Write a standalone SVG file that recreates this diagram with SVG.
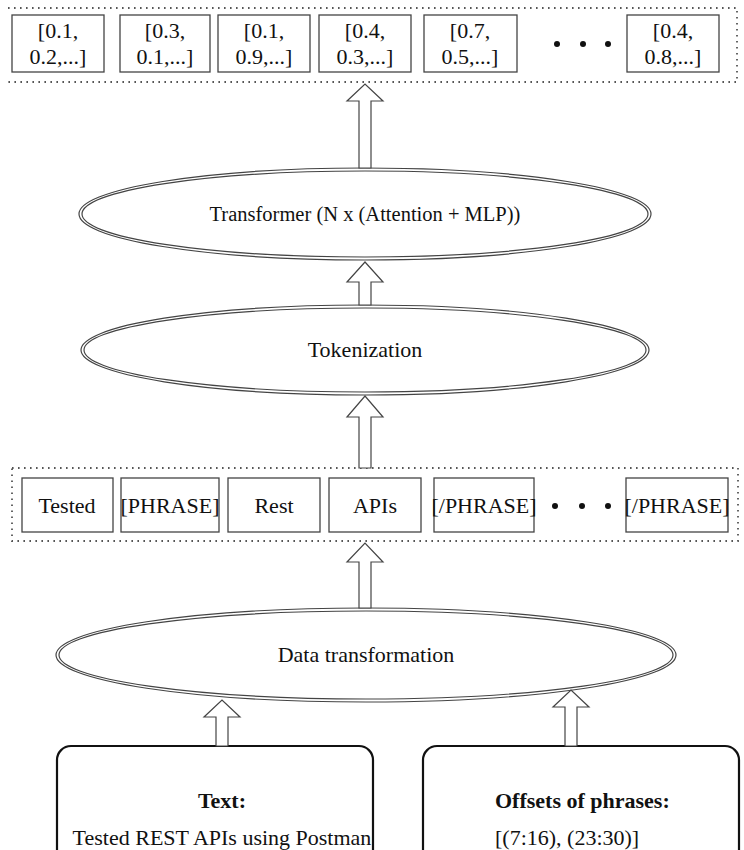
<svg xmlns="http://www.w3.org/2000/svg" width="744" height="850" viewBox="0 0 744 850">
<style>
text{font-family:"Liberation Serif","Times New Roman",serif;font-size:22px;fill:#111;text-anchor:middle}
.b{font-weight:bold}
.s{font-size:20.5px}
.box{fill:#fff;stroke:#444;stroke-width:1.3}
.dot{fill:none;stroke:#555;stroke-width:1.8;stroke-dasharray:1.6,4.4}
.ell{fill:none;stroke:#444;stroke-width:1.2}
.arr{fill:#fff;stroke:#444;stroke-width:1.2;stroke-linejoin:miter}
.rbox{fill:#fff;stroke:#111;stroke-width:2.2}
.dots{fill:#111}
</style>
<rect width="744" height="850" fill="#fff"/>
<g id="embeddings">
<path class="dot" d="M8 8H737V82H8"/>
<g id="e1"><rect class="box" x="12" y="15" width="92" height="57"/><text x="58" y="38">[0.1,</text><text x="58" y="64">0.2,...]</text></g>
<g id="e2"><rect class="box" x="120" y="15" width="90" height="57"/><text x="165" y="38">[0.3,</text><text x="165" y="64">0.1,...]</text></g>
<g id="e3"><rect class="box" x="218" y="15" width="92" height="57"/><text x="264" y="38">[0.1,</text><text x="264" y="64">0.9,...]</text></g>
<g id="e4"><rect class="box" x="319" y="15" width="92" height="57"/><text x="365" y="38">[0.4,</text><text x="365" y="64">0.3,...]</text></g>
<g id="e5"><rect class="box" x="424" y="15" width="93" height="57"/><text x="470" y="38">[0.7,</text><text x="470" y="64">0.5,...]</text></g>
<g class="dots"><circle cx="557" cy="44" r="3"/><circle cx="583" cy="44" r="3"/><circle cx="608" cy="44" r="3"/></g>
<g id="e6"><rect class="box" x="627" y="15" width="92" height="57"/><text x="673" y="38">[0.4,</text><text x="673" y="64">0.8,...]</text></g>
</g>
<g id="transformer">
<ellipse class="ell" cx="365" cy="214" rx="286" ry="46"/>
<ellipse class="ell" cx="365" cy="214" rx="283" ry="43"/>
<text class="s" x="365" y="221">Transformer (N x (Attention + MLP))</text>
</g>
<g id="tokenization">
<ellipse class="ell" cx="365" cy="350" rx="284" ry="45"/>
<ellipse class="ell" cx="365" cy="350" rx="281" ry="42"/>
<text x="365" y="357">Tokenization</text>
</g>
<g id="tokens">
<path class="dot" d="M12 468H738V541H12Z"/>
<g id="t1"><rect class="box" x="22" y="478" width="91" height="54"/><text x="67" y="513">Tested</text></g>
<g id="t2"><rect class="box" x="121" y="478" width="98" height="54"/><text x="170" y="513">[PHRASE]</text></g>
<g id="t3"><rect class="box" x="228" y="478" width="92" height="54"/><text x="274" y="513">Rest</text></g>
<g id="t4"><rect class="box" x="329" y="478" width="92" height="54"/><text x="375" y="513">APIs</text></g>
<g id="t5"><rect class="box" x="434" y="478" width="100" height="54"/><text x="484" y="513">[/PHRASE]</text></g>
<g class="dots"><circle cx="555" cy="506" r="3"/><circle cx="582" cy="506" r="3"/><circle cx="608" cy="506" r="3"/></g>
<g id="t6"><rect class="box" x="626" y="478" width="102" height="54"/><text x="677" y="513">[/PHRASE]</text></g>
</g>
<g id="datatransform">
<ellipse class="ell" cx="366" cy="655" rx="310" ry="47"/>
<ellipse class="ell" cx="366" cy="655" rx="307" ry="44"/>
<text x="366" y="662">Data transformation</text>
</g>
<g id="text-input">
<rect class="rbox" x="57" y="746" width="316" height="130" rx="14"/>
<text class="b" x="222" y="808">Text:</text>
<text x="222" y="845">Tested REST APIs using Postman</text>
</g>
<g id="offsets-input">
<rect class="rbox" x="423" y="746" width="316" height="130" rx="14"/>
<text class="b" x="495" y="808" style="text-anchor:start">Offsets of phrases:</text>
<text x="495" y="845" style="text-anchor:start">[(7:16), (23:30)]</text>
</g>
<g id="connectors">
<polygon class="arr" points="359,168 359,101 347,101 365,84 383,101 371,101 371,168"/>
<polygon class="arr" points="359,305 359,282 347,282 365,262 383,282 371,282 371,305"/>
<polygon class="arr" points="359,468 359,417 347,417 365,396 383,417 371,417 371,468"/>
<polygon class="arr" points="359,608 359,562 347,562 365,543 383,562 371,562 371,608"/>
<polygon class="arr" points="216,746 216,717 204,717 222,700 240,717 228,717 228,746"/>
<polygon class="arr" points="565,746 565,707 553,707 571,690 589,707 577,707 577,746"/>
</g>
</svg>
